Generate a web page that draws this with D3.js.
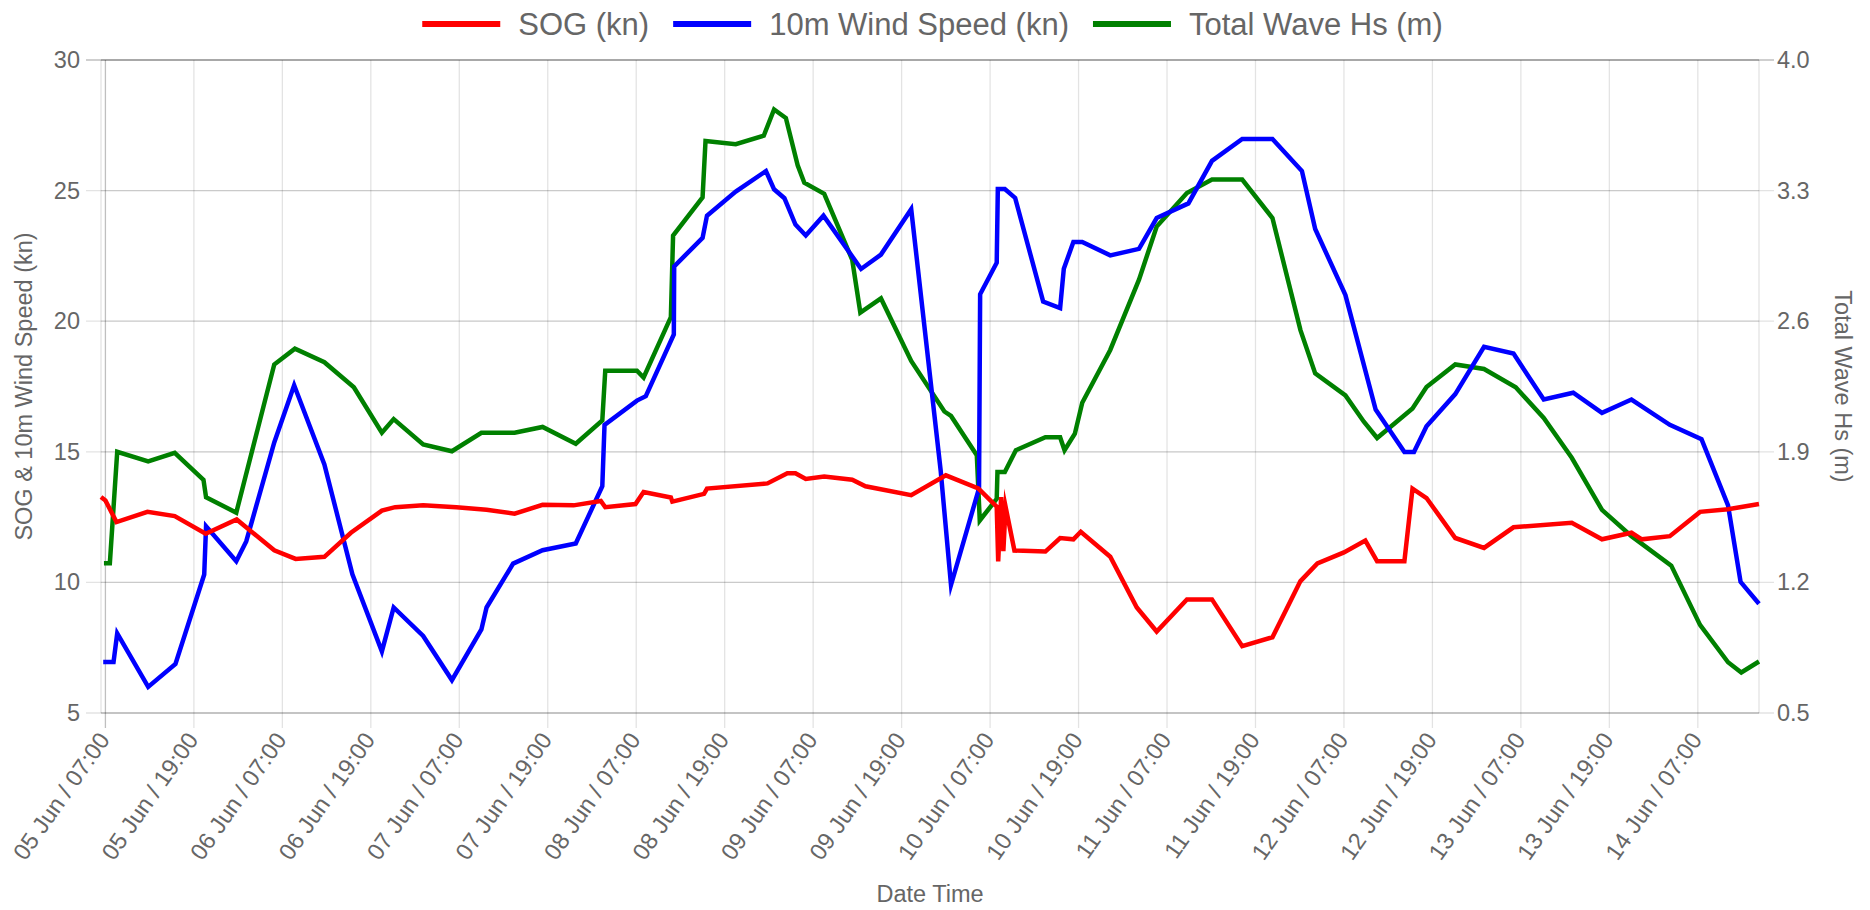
<!DOCTYPE html>
<html>
<head>
<meta charset="utf-8">
<script src="https://cdn.jsdelivr.net/npm/d3@7"></script>
<style>
  body { margin: 0; background: #fff; }
  text { font-family: "Liberation Sans", Arial, Helvetica, sans-serif; fill: #666; }
</style>
</head>
<body>
<svg id="chart" width="1870" height="910"></svg>
<script>
// ---------------- DATA (times are month-day hour:minute, June) ----------------
const seriesNames = ["SOG (kn)", "10m Wind Speed (kn)", "Total Wave Hs (m)"];
const seriesColors = ["#ff0000", "#0000ff", "#008000"];

const sogTimes = ["06-05 06:24","06-05 07:00","06-05 08:30","06-05 12:42","06-05 16:24","06-05 20:36","06-06 00:48","06-06 05:54","06-06 08:48","06-06 12:42","06-06 16:18","06-06 20:30","06-06 22:18","06-07 02:06","06-07 06:36","06-07 10:42","06-07 14:30","06-07 18:18","06-07 22:30","06-08 02:12","06-08 02:48","06-08 06:54","06-08 08:00","06-08 11:42","06-08 11:54","06-08 16:12","06-08 16:36","06-09 00:48","06-09 03:30","06-09 04:36","06-09 06:00","06-09 08:30","06-09 12:18","06-09 14:06","06-09 20:18","06-10 01:00","06-10 05:24","06-10 07:54","06-10 08:06","06-10 08:30","06-10 08:48","06-10 09:06","06-10 10:18","06-10 14:30","06-10 16:30","06-10 18:18","06-10 19:18","06-10 23:18","06-11 02:54","06-11 05:36","06-11 09:42","06-11 13:06","06-11 17:12","06-11 21:18","06-12 01:06","06-12 03:24","06-12 07:00","06-12 09:54","06-12 11:30","06-12 15:12","06-12 16:18","06-12 18:12","06-12 22:06","06-13 02:00","06-13 06:00","06-13 13:54","06-13 18:00","06-13 22:00","06-13 23:24","06-14 03:12","06-14 07:18","06-14 11:06","06-14 15:18"];
const sogValues = [13.27,13.14,12.31,12.70,12.54,11.86,12.41,11.23,10.90,10.98,11.90,12.75,12.88,12.95,12.88,12.78,12.63,12.97,12.95,13.12,12.88,13.00,13.46,13.25,13.09,13.39,13.59,13.79,14.18,14.18,13.96,14.05,13.93,13.68,13.34,14.10,13.60,12.90,10.80,13.27,11.20,12.90,11.22,11.18,11.70,11.65,11.94,10.98,9.04,8.12,9.35,9.35,7.56,7.90,10.05,10.73,11.15,11.60,10.81,10.81,13.59,13.23,11.70,11.32,12.11,12.28,11.65,11.90,11.65,11.77,12.70,12.80,13.00];

const windTimes = ["06-05 06:42","06-05 08:06","06-05 08:36","06-05 12:48","06-05 16:30","06-05 20:24","06-05 20:39","06-06 00:45","06-06 02:06","06-06 05:54","06-06 08:36","06-06 12:42","06-06 16:30","06-06 20:30","06-06 22:06","06-07 02:06","06-07 06:00","06-07 10:00","06-07 10:42","06-07 14:18","06-07 18:18","06-07 22:48","06-08 02:24","06-08 02:42","06-08 07:06","06-08 08:18","06-08 12:06","06-08 12:09","06-08 16:00","06-08 16:36","06-08 20:30","06-09 00:36","06-09 01:42","06-09 03:06","06-09 04:36","06-09 06:00","06-09 08:24","06-09 13:30","06-09 16:12","06-09 20:18","06-10 00:18","06-10 01:42","06-10 05:30","06-10 05:39","06-10 07:54","06-10 08:03","06-10 09:00","06-10 10:24","06-10 14:12","06-10 16:30","06-10 17:00","06-10 18:18","06-10 19:30","06-10 23:18","06-11 03:12","06-11 05:36","06-11 09:54","06-11 13:06","06-11 17:12","06-11 21:18","06-12 01:18","06-12 03:06","06-12 07:12","06-12 11:18","06-12 15:12","06-12 16:30","06-12 18:12","06-12 22:06","06-13 02:00","06-13 06:00","06-13 10:06","06-13 14:06","06-13 18:00","06-13 22:00","06-14 03:12","06-14 07:30","06-14 11:06","06-14 12:48","06-14 15:18"];
const windValues = [6.95,6.95,8.05,6.00,6.88,10.30,12.15,10.81,11.57,15.36,17.55,14.52,10.31,7.36,9.04,7.95,6.26,8.20,9.04,10.72,11.23,11.49,13.68,16.03,16.96,17.13,19.49,22.10,23.19,24.04,24.96,25.75,25.05,24.71,23.70,23.28,24.04,22.00,22.55,24.29,14.27,9.90,13.60,21.03,22.24,25.06,25.06,24.72,20.75,20.50,22.01,23.03,23.03,22.52,22.77,23.95,24.51,26.14,26.98,26.98,25.75,23.53,21.00,16.62,14.99,14.99,15.98,17.21,19.02,18.76,17.00,17.26,16.49,17.00,16.03,15.48,12.95,10.02,9.18];

const waveTimes = ["06-05 06:48","06-05 07:36","06-05 08:36","06-05 12:48","06-05 16:24","06-05 20:18","06-05 20:39","06-06 00:45","06-06 05:54","06-06 08:42","06-06 12:42","06-06 16:42","06-06 20:30","06-06 22:06","06-07 02:06","06-07 06:00","06-07 10:00","06-07 14:30","06-07 18:18","06-07 22:48","06-08 02:24","06-08 02:48","06-08 07:06","06-08 08:00","06-08 11:42","06-08 12:00","06-08 16:00","06-08 16:24","06-08 20:30","06-09 00:18","06-09 01:42","06-09 03:18","06-09 04:54","06-09 05:48","06-09 08:30","06-09 12:18","06-09 13:24","06-09 16:12","06-09 20:18","06-10 00:48","06-10 01:42","06-10 05:12","06-10 05:36","06-10 07:54","06-10 08:00","06-10 09:00","06-10 10:30","06-10 14:30","06-10 16:30","06-10 17:06","06-10 18:30","06-10 19:30","06-10 23:18","06-11 03:12","06-11 05:36","06-11 09:42","06-11 13:06","06-11 17:12","06-11 21:18","06-12 01:06","06-12 03:06","06-12 07:12","06-12 09:42","06-12 11:30","06-12 16:18","06-12 18:12","06-12 22:06","06-13 02:00","06-13 06:18","06-13 10:06","06-13 13:54","06-13 18:00","06-13 22:00","06-14 03:24","06-14 07:18","06-14 11:06","06-14 12:54","06-14 15:18"];
const waveValues = [1.302,1.302,1.900,1.848,1.894,1.750,1.656,1.574,2.368,2.453,2.380,2.246,2.002,2.075,1.939,1.903,2.002,2.002,2.033,1.943,2.068,2.335,2.335,2.298,2.622,3.059,3.264,3.566,3.549,3.594,3.735,3.689,3.436,3.342,3.283,2.929,2.646,2.722,2.387,2.116,2.092,1.882,1.532,1.648,1.792,1.792,1.908,1.978,1.978,1.908,1.997,2.163,2.446,2.823,3.107,3.287,3.359,3.359,3.153,2.552,2.320,2.202,2.061,1.974,2.132,2.247,2.368,2.344,2.246,2.081,1.868,1.589,1.448,1.290,0.972,0.772,0.717,0.776];

const xDomain = ["06-05 06:24", "06-14 15:18"];
const xTickTimes = ["06-05 07:00","06-05 19:00","06-06 07:00","06-06 19:00","06-07 07:00","06-07 19:00","06-08 07:00","06-08 19:00","06-09 07:00","06-09 19:00","06-10 07:00","06-10 19:00","06-11 07:00","06-11 19:00","06-12 07:00","06-12 19:00","06-13 07:00","06-13 19:00","06-14 07:00"];
const xTickLabels = ["05 Jun / 07:00","05 Jun / 19:00","06 Jun / 07:00","06 Jun / 19:00","07 Jun / 07:00","07 Jun / 19:00","08 Jun / 07:00","08 Jun / 19:00","09 Jun / 07:00","09 Jun / 19:00","10 Jun / 07:00","10 Jun / 19:00","11 Jun / 07:00","11 Jun / 19:00","12 Jun / 07:00","12 Jun / 19:00","13 Jun / 07:00","13 Jun / 19:00","14 Jun / 07:00"];
const leftTicks = [5, 10, 15, 20, 25, 30];
const leftTickLabels = ["5", "10", "15", "20", "25", "30"];
const rightTicks = [0.5, 1.2, 1.9, 2.6, 3.3, 4.0];
const rightTickLabels = ["0.5", "1.2", "1.9", "2.6", "3.3", "4.0"];
const leftDomain = [5, 30];
const rightDomain = [0.5, 4.0];
const xTitle = "Date Time";
const leftTitle = "SOG & 10m Wind Speed (kn)";
const rightTitle = "Total Wave Hs (m)";

// ---------------- LAYOUT ----------------
const W = 1870, H = 910;
const plot = { left: 101, right: 1759, top: 60, bottom: 713 };
const parse = d3.timeParse("%m-%d %H:%M");
const svg = d3.select("#chart");

const x = d3.scaleTime().domain(xDomain.map(parse)).range([plot.left, plot.right]);
const yL = d3.scaleLinear().domain(leftDomain).range([plot.bottom, plot.top]);
const yR = d3.scaleLinear().domain(rightDomain).range([plot.bottom, plot.top]);

const grid = svg.append("g");
const light = "rgba(0,0,0,0.11)", zero = "rgba(0,0,0,0.25)";
const TL = 15, GW = 1.3;

// vertical grid (x ticks)
xTickTimes.map(parse).forEach((t, i) => {
  grid.append("line").attr("x1", x(t)).attr("x2", x(t))
    .attr("y1", plot.top).attr("y2", plot.bottom + TL)
    .attr("stroke", i === 0 ? zero : light).attr("stroke-width", GW);
});
// horizontal grid, left axis
leftTicks.forEach(v => {
  grid.append("line").attr("x1", plot.left - TL).attr("x2", plot.right)
    .attr("y1", yL(v)).attr("y2", yL(v))
    .attr("stroke", v === leftDomain[1] ? zero : light).attr("stroke-width", GW);
});
// horizontal grid, right axis
rightTicks.forEach(v => {
  grid.append("line").attr("x1", plot.left).attr("x2", plot.right + TL)
    .attr("y1", yR(v)).attr("y2", yR(v))
    .attr("stroke", v === rightDomain[1] ? zero : light).attr("stroke-width", GW);
});
// borders
grid.append("line").attr("x1", plot.left).attr("x2", plot.left).attr("y1", plot.top).attr("y2", plot.bottom).attr("stroke", light).attr("stroke-width", GW);
grid.append("line").attr("x1", plot.right).attr("x2", plot.right).attr("y1", plot.top).attr("y2", plot.bottom).attr("stroke", light).attr("stroke-width", GW);
grid.append("line").attr("x1", plot.left).attr("x2", plot.right).attr("y1", plot.bottom).attr("y2", plot.bottom).attr("stroke", light).attr("stroke-width", GW);

// axes (labels)
const fs = 23.5;
const axL = svg.append("g").attr("transform", `translate(${plot.left},0)`)
  .call(d3.axisLeft(yL).tickValues(leftTicks).tickFormat((d, i) => leftTickLabels[i]).tickSize(0).tickPadding(21));
const axR = svg.append("g").attr("transform", `translate(${plot.right},0)`)
  .call(d3.axisRight(yR).tickValues(rightTicks).tickFormat((d, i) => rightTickLabels[i]).tickSize(0).tickPadding(18));
const axX = svg.append("g").attr("transform", `translate(0,${plot.bottom})`)
  .call(d3.axisBottom(x).tickValues(xTickTimes.map(parse)).tickFormat((d, i) => xTickLabels[i]).tickSize(0));
[axL, axR, axX].forEach(a => {
  a.select(".domain").remove();
  a.selectAll("text").style("font-size", fs + "px").attr("fill", "#666");
});
axX.selectAll("text")
  .attr("x", 0).attr("y", 0).attr("dy", "0.35em")
  .attr("text-anchor", "end")
  .attr("transform", "translate(-2,22) rotate(-55)");

// titles
svg.append("text").attr("x", (plot.left + plot.right) / 2).attr("y", 894)
  .attr("text-anchor", "middle").attr("dominant-baseline", "central")
  .style("font-size", fs + "px").text(xTitle);
svg.append("text").attr("transform", `translate(24,${(plot.top + plot.bottom) / 2}) rotate(-90)`)
  .attr("text-anchor", "middle").attr("dominant-baseline", "central")
  .style("font-size", fs + "px").text(leftTitle);
svg.append("text").attr("transform", `translate(1843,${(plot.top + plot.bottom) / 2}) rotate(90)`)
  .attr("text-anchor", "middle").attr("dominant-baseline", "central")
  .style("font-size", fs + "px").text(rightTitle);

// series
const series = [
  { times: waveTimes, values: waveValues, y: yR, color: seriesColors[2] },
  { times: windTimes, values: windValues, y: yL, color: seriesColors[1] },
  { times: sogTimes, values: sogValues, y: yL, color: seriesColors[0] }
];
series.forEach(s => {
  const pts = s.times.map((t, i) => [parse(t), s.values[i]]);
  const line = d3.line().x(d => x(d[0])).y(d => s.y(d[1])).curve(d3.curveLinear);
  svg.append("path").datum(pts).attr("d", line)
    .attr("fill", "none").attr("stroke", s.color).attr("stroke-width", 4.5)
    .attr("stroke-linejoin", "miter").attr("stroke-miterlimit", 10);
});

// legend
const legFs = 31, boxW = 78, boxH = 6, boxGap = 18, itemGap = 24, legY = 24, legCenter = 932.5;
const leg = svg.append("g");
const items = seriesNames.map((name, i) => {
  const g = leg.append("g");
  g.append("rect").attr("x", 0).attr("y", legY - boxH / 2).attr("width", boxW).attr("height", boxH).attr("fill", seriesColors[i]);
  const t = g.append("text").attr("x", boxW + boxGap).attr("y", legY).attr("dominant-baseline", "central")
    .style("font-size", legFs + "px").text(name);
  return { g, w: boxW + boxGap + t.node().getComputedTextLength() };
});
const total = d3.sum(items, d => d.w) + itemGap * (items.length - 1);
let cx = legCenter - total / 2;
items.forEach(it => { it.g.attr("transform", `translate(${cx},0)`); cx += it.w + itemGap; });
</script>
</body>
</html>
